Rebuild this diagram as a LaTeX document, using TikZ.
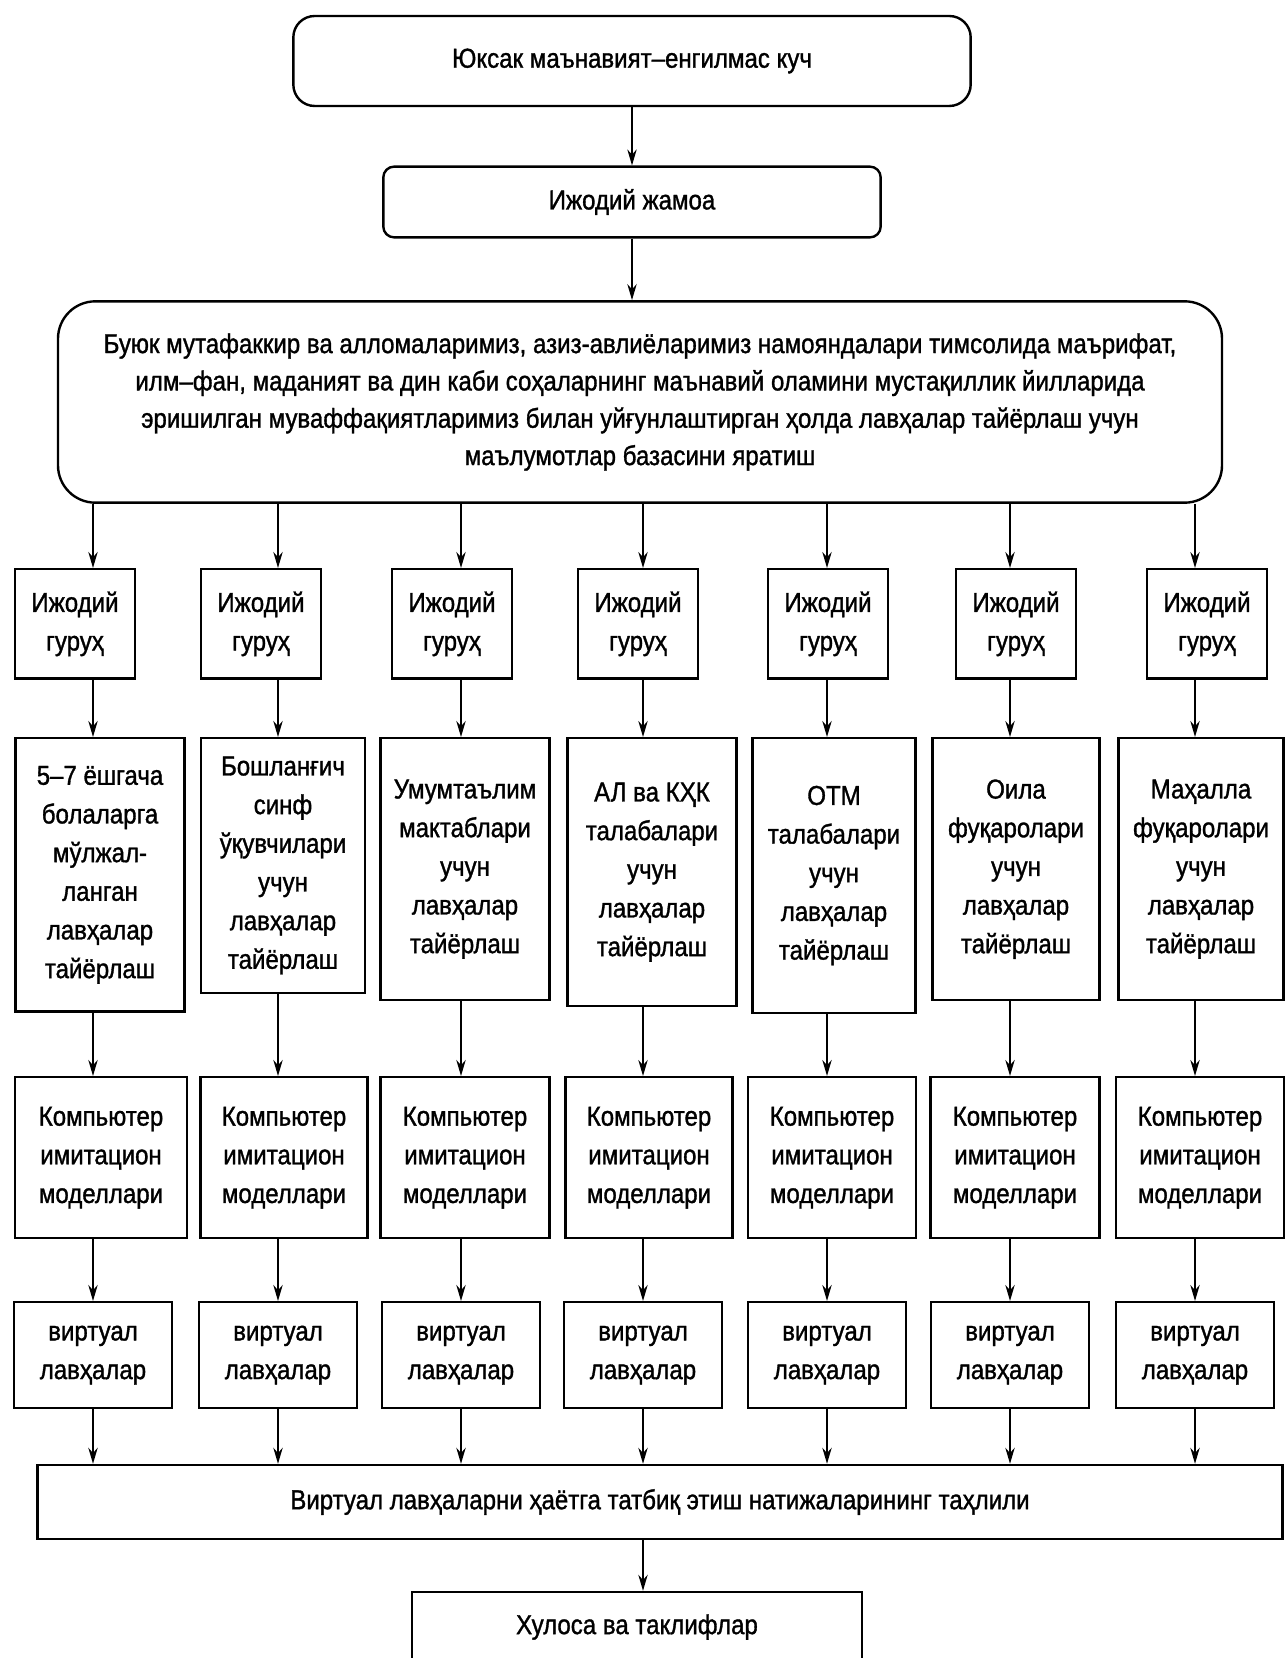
\documentclass[tikz,border=0pt]{standalone}
\usepackage{fontspec}
\setmainfont{Liberation Sans}[FakeStretch=0.88,FakeBold=1.2]
\usetikzlibrary{arrows.meta}
\tikzset{%
  downarrow/.style = {-{Stealth[length=12pt,width=7pt]},line width=1.5pt},
  rr/.style = {rectangle,rounded corners=8pt,draw,line width=1.8pt,
        align=center,font=\fontsize{20.5}{28}\selectfont},
  r/.style = {rectangle,draw,line width=1.8pt,align=center,inner sep=2pt,
        font=\fontsize{20.5}{29}\selectfont}
}

\begin{document}
\begin{tikzpicture}[x=0.75pt,y=-0.75pt]
\useasboundingbox (0,0) rectangle (1286,1658);
\node[rr,rounded corners=16pt,minimum width=508pt,minimum height=67.5pt] (kuch) at (632,61) {Юксак маънавият–енгилмас куч};
\node[rr,minimum width=373pt,minimum height=53pt] (jamoa) at (632,202) {Ижодий жамоа};
\node[rr,rounded corners=28pt,minimum width=873pt,minimum height=151pt] (baza) at (640,402)
    {Буюк мутафаккир ва алломаларимиз, азиз-авлиёларимиз намояндалари тимсолида маърифат,\\
     илм–фан, маданият ва дин каби соҳаларнинг маънавий оламини мустақиллик йилларида\\
     эришилган муваффақиятларимиз билан уйғунлаштирган ҳолда лавҳалар тайёрлаш учун\\
     маълумотлар базасини яратиш};
% creative groups
\node[r,anchor=north,minimum width=90pt,minimum height=82pt] (g1) at (75,568) {Ижодий\\гуруҳ};
\node[r,anchor=north,minimum width=90pt,minimum height=82pt] (g2) at (261,568) {Ижодий\\гуруҳ};
\node[r,anchor=north,minimum width=90pt,minimum height=82pt] (g3) at (452,568) {Ижодий\\гуруҳ};
\node[r,anchor=north,minimum width=90pt,minimum height=82pt] (g4) at (638,568) {Ижодий\\гуруҳ};
\node[r,anchor=north,minimum width=90pt,minimum height=82pt] (g5) at (828,568) {Ижодий\\гуруҳ};
\node[r,anchor=north,minimum width=90pt,minimum height=82pt] (g6) at (1016,568) {Ижодий\\гуруҳ};
\node[r,anchor=north,minimum width=90pt,minimum height=82pt] (g7) at (1207,568) {Ижодий\\гуруҳ};
% target audiences
\node[r,anchor=north,minimum width=127pt,minimum height=205pt] (t1) at (100,737)
    {5–7 ёшгача\\болаларга\\мўлжал-\\ланган\\лавҳалар\\тайёрлаш};
\node[r,anchor=north,minimum width=123pt,minimum height=191pt] (t2) at (283,737)
    {Бошланғич\\синф\\ўқувчилари\\учун\\лавҳалар\\тайёрлаш};
\node[r,anchor=north,minimum width=127pt,minimum height=196.5pt] (t3) at (465,737)
    {Умумтаълим\\мактаблари\\учун\\лавҳалар\\тайёрлаш};
\node[r,anchor=north,minimum width=127pt,minimum height=201pt] (t4) at (652,737)
    {АЛ ва КҲК\\талабалари\\учун\\лавҳалар\\тайёрлаш};
\node[r,anchor=north,minimum width=122pt,minimum height=206pt] (t5) at (834,737)
    {ОТМ\\талабалари\\учун\\лавҳалар\\тайёрлаш};
\node[r,anchor=north,minimum width=125pt,minimum height=196.5pt] (t6) at (1016,737)
    {Оила\\фуқаролари\\учун\\лавҳалар\\тайёрлаш};
\node[r,anchor=north,minimum width=124pt,minimum height=196.5pt] (t7) at (1201,737)
    {Маҳалла\\фуқаролари\\учун\\лавҳалар\\тайёрлаш};
% models
\node[r,anchor=north,minimum width=129pt,minimum height=120.75pt] (m1) at (101,1076) {Компьютер\\имитацион\\моделлари};
\node[r,anchor=north,minimum width=125pt,minimum height=120.75pt] (m2) at (284,1076) {Компьютер\\имитацион\\моделлари};
\node[r,anchor=north,minimum width=127pt,minimum height=120.75pt] (m3) at (465,1076) {Компьютер\\имитацион\\моделлари};
\node[r,anchor=north,minimum width=125pt,minimum height=120.75pt] (m4) at (649,1076) {Компьютер\\имитацион\\моделлари};
\node[r,anchor=north,minimum width=126pt,minimum height=120.75pt] (m5) at (832,1076) {Компьютер\\имитацион\\моделлари};
\node[r,anchor=north,minimum width=127pt,minimum height=120.75pt] (m6) at (1015,1076) {Компьютер\\имитацион\\моделлари};
\node[r,anchor=north,minimum width=126pt,minimum height=120.75pt] (m7) at (1200,1076) {Компьютер\\имитацион\\моделлари};
% virtual
\node[r,anchor=north,minimum width=118.5pt,minimum height=79.5pt] (v1) at (93,1301) {виртуал\\лавҳалар};
\node[r,anchor=north,minimum width=118.5pt,minimum height=79.5pt] (v2) at (278,1301) {виртуал\\лавҳалар};
\node[r,anchor=north,minimum width=118.5pt,minimum height=79.5pt] (v3) at (461,1301) {виртуал\\лавҳалар};
\node[r,anchor=north,minimum width=118.5pt,minimum height=79.5pt] (v4) at (643,1301) {виртуал\\лавҳалар};
\node[r,anchor=north,minimum width=118.5pt,minimum height=79.5pt] (v5) at (827,1301) {виртуал\\лавҳалар};
\node[r,anchor=north,minimum width=118.5pt,minimum height=79.5pt] (v6) at (1010,1301) {виртуал\\лавҳалар};
\node[r,anchor=north,minimum width=118.5pt,minimum height=79.5pt] (v7) at (1195,1301) {виртуал\\лавҳалар};
\node[r,minimum width=934pt,minimum height=55.5pt] (tahlil) at (660,1502)
    {Виртуал лавҳаларни ҳаётга татбиқ этиш натижаларининг таҳлили};
\node[r,minimum width=337.5pt,minimum height=52.5pt] (xulosa) at (637,1627) {Хулоса ва таклифлар};

\draw[downarrow] (kuch) -- (jamoa);
\draw[downarrow] (jamoa) -- (baza.north -| jamoa);
\foreach \i in {1,...,7}{
  \draw[downarrow] (baza.south -| v\i) -- (g\i.north -| v\i);
  \draw[downarrow] (g\i.south -| v\i) -- (t\i.north -| v\i);
  \draw[downarrow] (t\i.south -| v\i) -- (m\i.north -| v\i);
  \draw[downarrow] (m\i.south -| v\i) -- (v\i.north);
  \draw[downarrow] (v\i) -- (tahlil.north -| v\i);
}
\draw[downarrow] (tahlil.south -| v4) -- (xulosa.north -| v4);
\end{tikzpicture}
\end{document}
